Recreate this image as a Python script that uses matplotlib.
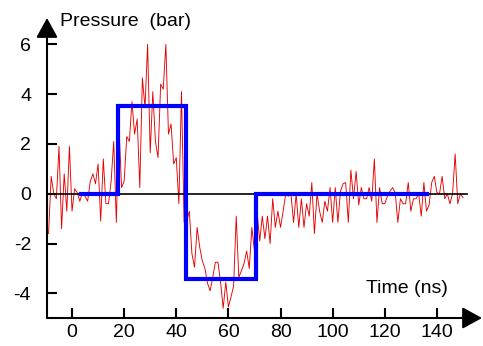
import matplotlib
matplotlib.use("Agg")
import matplotlib.pyplot as plt
import numpy as np

plt.rcParams['font.family'] = ['Liberation Sans', 'DejaVu Sans']
plt.rcParams['axes.unicode_minus'] = False

# measured pressure, one sample per ns starting at t = -9 ns
t_start = -9
pressure = [
    # -9 .. 17
    -1.6, 0.7, 0.0, -0.2, 1.9, -1.4, 0.8, -0.7, 1.9, -0.7, 0.2, 0.05, -0.3,
    0.05, -0.1, -0.3, 0.5, 0.8, 0.4, 1.2, -1.1, 1.4, -0.4, -0.4, 0.5, 2.1, -1.15,
    # 18 .. 43
    2.8, 0.25, 0.5, 2.3, 2.1, 3.7, 2.4, 3.0, 0.25, 4.65, 3.45, 6.0, 1.65, 4.1,
    2.1, 1.45, 4.4, 4.2, 6.0, 2.4, 2.8, 1.2, 1.45, -0.4, 4.1, -1.15,
    # 44 .. 72
    -1.1, -0.7, -2.4, -2.95, -1.35, -2.15, -2.7, -3.0, -3.6, -3.9, -3.35, -2.75,
    -2.75, -3.55, -4.6, -3.55, -4.55, -4.15, -3.7, -0.9, -3.35, -3.1, -2.8, -2.3,
    -3.0, -1.35, -2.3, -0.7, -1.9,
    # 73 .. 109
    -0.9, -1.8, -0.9, -2.0, -0.2, -1.35, -0.7, -1.35, -0.7, 0.0, -0.1, 0.0,
    -1.15, 0.0, -1.35, -0.2, -1.35, -0.4, -0.9, 0.45, -1.6, 0.0, -0.7, -1.15,
    -0.3, -0.7, 0.25, -1.15, 0.25, -1.15, 0.1, 0.4, 0.45, -1.15, 0.95, -0.2, 0.9,
    # 110 .. 149
    -0.45, 0.25, -0.2, -0.2, 0.25, -0.3, 1.4, -1.15, 0.25, -0.4, -0.4, -0.1,
    0.1, 0.25, 0.05, -1.15, -0.2, -0.4, -0.4, 0.45, -0.7, -0.2, -0.2, 0.0, -0.9,
    0.45, -0.7, -0.45, 0.45, 0.7, 0.05, 0.0, 0.7, -0.2, 0.0, -0.4, 0.0, 1.6,
    -0.4, 0.0, -0.15,
]
time = t_start + np.arange(len(pressure))

# fitted step profile
step_t = [3.5, 17.8, 17.8, 43.7, 43.7, 70.6, 70.6, 136.2]
step_p = [0, 0, 3.52, 3.52, -3.43, -3.43, 0, 0]

x_ticks = [0, 20, 40, 60, 80, 100, 120, 140]
y_ticks = [-4, -2, 0, 2, 4, 6]

W, H = 483, 346
fig = plt.figure(figsize=(W / 100, H / 100), dpi=100)
ax = fig.add_axes([47 / W, (H - 318) / H, (482 - 47) / W, (318 - 18) / H])
ax.set_xlim(-9.6, 157.3)
ax.set_ylim(-4.99, 7.06)

ax.plot(time, pressure, color='#e60000', lw=0.65, zorder=2)
ax.plot([-9.6, 151.5], [0, 0], color='black', lw=1.2, zorder=3)
ax.plot(step_t, step_p, color='#0000ff', lw=3, zorder=4,
        solid_joinstyle='miter')

for s in ax.spines.values():
    s.set_visible(False)
arrow = dict(arrowstyle='-|>,head_length=0.6,head_width=0.33',
             color='black', lw=1.5, shrinkA=0, shrinkB=0, mutation_scale=20)
ax.annotate('', xy=(0, 1), xytext=(0, 0), xycoords='axes fraction',
            arrowprops=arrow, annotation_clip=False)
ax.annotate('', xy=(1, 0), xytext=(0, 0), xycoords='axes fraction',
            arrowprops=arrow, annotation_clip=False)

ax.set_xticks(x_ticks)
ax.set_yticks(y_ticks)
ax.tick_params(axis='x', direction='in', length=7, width=1.5,
               labelsize=14, pad=4)
ax.tick_params(axis='y', direction='in', length=7, width=1.5,
               labelsize=14, pad=11.5)

fig.text(60 / W, (H - 26) / H, 'Pressure  (bar)', fontsize=14, va='baseline')
fig.text(366 / W, (H - 293) / H, 'Time (ns)', fontsize=14, va='baseline')

fig.savefig('out.png', dpi=100)
